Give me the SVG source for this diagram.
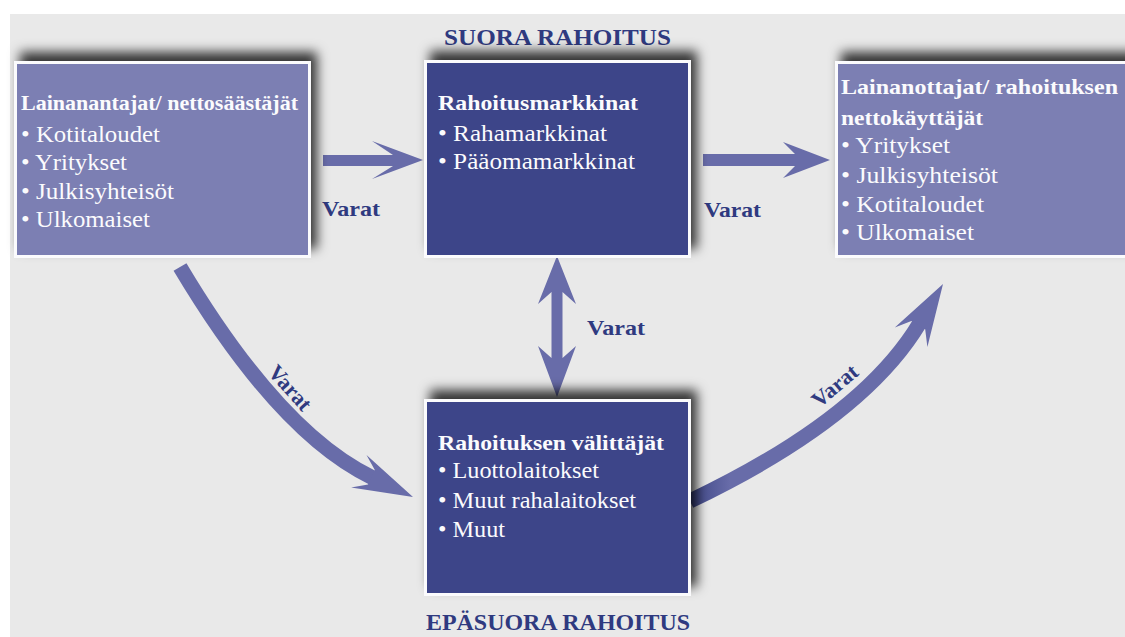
<svg xmlns="http://www.w3.org/2000/svg" width="1125" height="637" viewBox="0 0 1125 637">
<defs>
<style>
.bg{fill:#e9e9e9}
.light{fill:#7b7fb3;stroke:#fbfbfd;stroke-width:3}
.dark{fill:#3c4589;stroke:#fbfbfd;stroke-width:3}
.t{font-family:'Liberation Serif','Times New Roman',serif;fill:#fbfbfd}
.h{font-size:22px;font-weight:bold}
.b{font-size:24px}
.lab{font-family:'Liberation Serif','Times New Roman',serif;font-weight:bold;fill:#2f3a80}
.arr{fill:#686ca9}
.shaft{fill:none;stroke:#686ca9;stroke-width:15}
</style>
<filter id="sh" x="-15%" y="-25%" width="130%" height="150%">
<feDropShadow dx="6" dy="-9" stdDeviation="6" flood-color="#000" flood-opacity="0.78"/>
</filter>
<linearGradient id="gr" gradientUnits="userSpaceOnUse" x1="691" y1="0" x2="730" y2="0">
<stop offset="0" stop-color="#3f4786"/>
<stop offset="1" stop-color="#686ca9"/>
</linearGradient>
</defs>
<rect class="bg" x="10" y="14" width="1115" height="623"/>

<g id="connectors">
<polygon class="arr" points="323,155 393,155 372,141 423,160 372,179 393,166 323,166"/>
<polygon class="arr" points="703,154 795,154 783,142 830,160 783,178 795,166 703,166"/>
<polygon class="arr" points="557,256 576,304 562.5,292 562.5,358 576,346 557,397 538,346 551.5,358 551.5,292 538,304"/>
<path class="shaft" d="M180 267 Q279 433 373 478"/>
<polygon class="arr" points="413,497 366.5,455 374.8,470.1 368,484.5 351.1,487.6"/>
<path class="shaft" style="stroke:url(#gr);stroke-width:15" d="M690 501 Q862 419 919.4 323.5"/>
<polygon class="arr" points="943,284 927.4,347.1 925.2,329.3 911.4,321.1 894.8,327.5"/>
</g>

<g id="labels">
<text class="lab" x="444" y="45" font-size="24" textLength="227" lengthAdjust="spacingAndGlyphs">SUORA RAHOITUS</text>
<text class="lab" x="426" y="630" font-size="24" textLength="264" lengthAdjust="spacingAndGlyphs">EPÄSUORA RAHOITUS</text>
<text class="lab" x="322" y="216" font-size="22" textLength="58" lengthAdjust="spacingAndGlyphs">Varat</text>
<text class="lab" x="704" y="217" font-size="22" textLength="57" lengthAdjust="spacingAndGlyphs">Varat</text>
<text class="lab" x="587" y="335" font-size="22" textLength="58" lengthAdjust="spacingAndGlyphs">Varat</text>
<text class="lab" font-size="22" text-anchor="middle" transform="translate(290 388) rotate(48)" y="7">Varat</text>
<text class="lab" font-size="22" text-anchor="middle" transform="translate(835 386) rotate(-40)" y="7">Varat</text>
</g>

<g id="lenders" filter="url(#sh)">
<rect class="light" x="15.5" y="62.5" width="294" height="194"/>
</g>
<g id="lenders-text">
<text class="t h" x="21" y="110" textLength="277" lengthAdjust="spacingAndGlyphs">Lainanantajat/ nettosäästäjät</text>
<text class="t b" x="21" y="142" textLength="139" lengthAdjust="spacingAndGlyphs">• Kotitaloudet</text>
<text class="t b" x="21" y="170" textLength="106" lengthAdjust="spacingAndGlyphs">• Yritykset</text>
<text class="t b" x="21" y="199" textLength="153" lengthAdjust="spacingAndGlyphs">• Julkisyhteisöt</text>
<text class="t b" x="21" y="227" textLength="129" lengthAdjust="spacingAndGlyphs">• Ulkomaiset</text>
</g>

<g id="markets" filter="url(#sh)">
<rect class="dark" x="425.5" y="61.5" width="264" height="195"/>
</g>
<g id="markets-text">
<text class="t h" x="438" y="110" textLength="200" lengthAdjust="spacingAndGlyphs">Rahoitusmarkkinat</text>
<text class="t b" x="438" y="141" textLength="169" lengthAdjust="spacingAndGlyphs">• Rahamarkkinat</text>
<text class="t b" x="438" y="169" textLength="197" lengthAdjust="spacingAndGlyphs">• Pääomamarkkinat</text>
</g>

<g id="borrowers" filter="url(#sh)">
<rect class="light" x="836.5" y="62.5" width="300" height="194"/>
</g>
<g id="borrowers-text">
<text class="t h" x="841" y="94" textLength="277" lengthAdjust="spacingAndGlyphs">Lainanottajat/ rahoituksen</text>
<text class="t h" x="841" y="125" textLength="142" lengthAdjust="spacingAndGlyphs">nettokäyttäjät</text>
<text class="t b" x="841" y="153" textLength="109" lengthAdjust="spacingAndGlyphs">• Yritykset</text>
<text class="t b" x="841" y="183" textLength="157" lengthAdjust="spacingAndGlyphs">• Julkisyhteisöt</text>
<text class="t b" x="841" y="212" textLength="143" lengthAdjust="spacingAndGlyphs">• Kotitaloudet</text>
<text class="t b" x="841" y="240" textLength="133" lengthAdjust="spacingAndGlyphs">• Ulkomaiset</text>
</g>

<g id="intermediaries" filter="url(#sh)">
<rect class="dark" x="425.5" y="400.5" width="264" height="194"/>
</g>
<g id="intermediaries-text">
<text class="t h" x="438" y="450" textLength="226" lengthAdjust="spacingAndGlyphs">Rahoituksen välittäjät</text>
<text class="t b" x="438" y="478" textLength="161" lengthAdjust="spacingAndGlyphs">• Luottolaitokset</text>
<text class="t b" x="438" y="508" textLength="198" lengthAdjust="spacingAndGlyphs">• Muut rahalaitokset</text>
<text class="t b" x="438" y="537" textLength="67" lengthAdjust="spacingAndGlyphs">• Muut</text>
</g>
</svg>
